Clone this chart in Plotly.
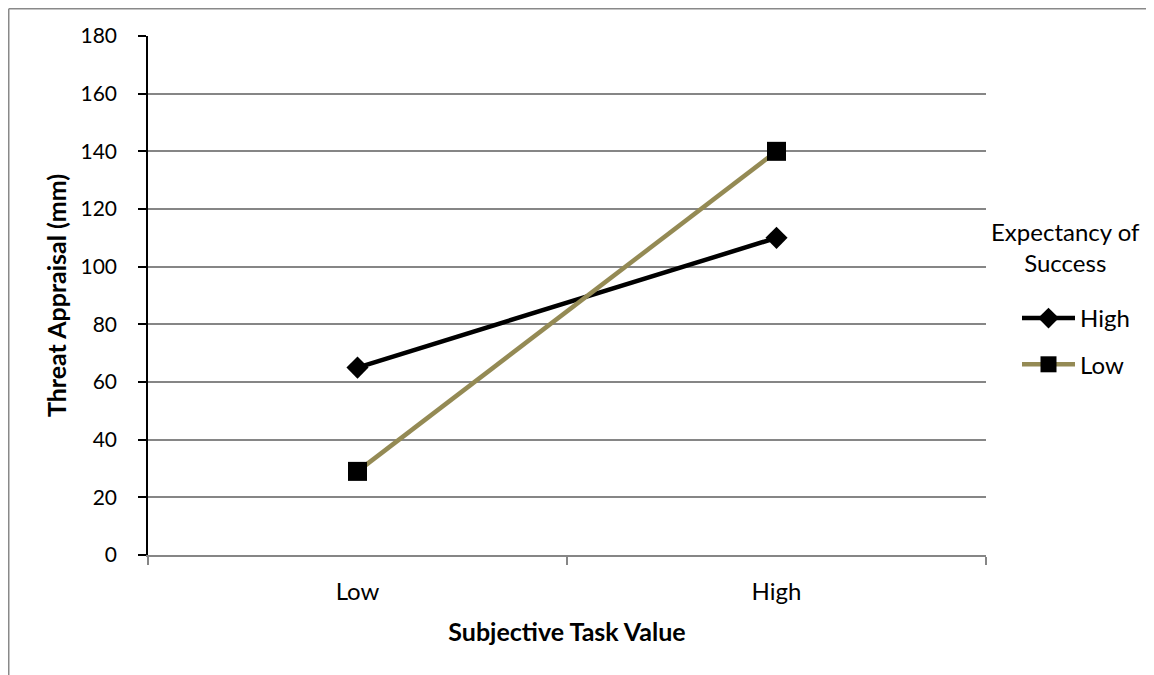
import plotly.graph_objects as go

categories = ["Low", "High"]
series_names = ["High", "Low"]
high_values = [65, 110]
low_values = [29, 140]
y_ticks = [0, 20, 40, 60, 80, 100, 120, 140, 160, 180]
legend_title = "Expectancy of<br>Success"

FONT = "Lato"
W, H = 1154, 675
# page is offset by the 8px body margin; margins are given in figure pixels
L, R, T, B = 140, 176, 28, 128
pw, ph = W - L - R, H - T - B

fig = go.Figure()
fig.add_trace(go.Scatter(
    x=categories, y=high_values, name=series_names[0], mode="lines+markers",
    legendgroup="g1",
    line=dict(color="#000000", width=4.5),
    marker=dict(symbol="diamond", size=17, color="#000000"),
))
fig.add_trace(go.Scatter(
    x=categories, y=low_values, name=series_names[1], mode="lines+markers",
    legendgroup="g2",
    line=dict(color="#948A54", width=4.5),
    marker=dict(symbol="square", size=19, color="#000000"),
))

def px_x(p):
    return (p - L) / pw

def px_y(p):
    return (H - B - p) / ph

border = dict(color="#898989", width=1.5)

fig.update_layout(
    width=W, height=H,
    margin=dict(l=L, r=R, t=T, b=B, pad=0),
    paper_bgcolor="white", plot_bgcolor="white",
    font=dict(family=FONT, size=24, color="#000000"),
    showlegend=True,
    legend=dict(
        x=px_x(1009), y=px_y(288), xanchor="left", yanchor="top",
        font=dict(family=FONT, size=24),
        bgcolor="rgba(0,0,0,0)", itemwidth=53,
        traceorder="grouped", tracegroupgap=12,
    ),
    annotations=[dict(
        text=legend_title, xref="paper", yref="paper",
        x=px_x(1057.5), y=px_y(238.5), xanchor="center", yanchor="middle",
        showarrow=False, align="center", font=dict(family=FONT, size=24),
    )],
    xaxis=dict(
        type="category", range=[-0.5, 1.5], tickson="boundaries",
        showgrid=False, showline=True, linecolor="#868686", linewidth=1.5,
        ticks="outside", ticklen=8, tickcolor="#868686", tickwidth=1.5,
        tickfont=dict(family=FONT, size=24), ticklabelstandoff=14,
        title=dict(text="<b>Subjective Task Value</b>", font=dict(family=FONT, size=25), standoff=20),
        zeroline=False,
    ),
    yaxis=dict(
        range=[0, 180], tickvals=y_ticks, showgrid=True, gridcolor="#868686", gridwidth=1.5,
        showline=True, linecolor="#000000", linewidth=1.5,
        ticks="outside", ticklen=8, tickcolor="#000000", tickwidth=1.5,
        tickfont=dict(family=FONT, size=21), ticklabelstandoff=17,
        title=dict(text="<b>Threat Appraisal (mm)</b>", font=dict(family=FONT, size=25), standoff=7),
        zeroline=False,
    ),
    shapes=[
        dict(type="line", xref="paper", yref="paper",
             x0=px_x(0.75), x1=px_x(W + 40), y0=px_y(0.75), y1=px_y(0.75),
             line=border, layer="below"),
        dict(type="line", xref="paper", yref="paper",
             x0=px_x(0.75), x1=px_x(0.75), y0=px_y(0.75), y1=px_y(H + 40),
             line=border, layer="below"),
    ],
)

fig.write_html("out.html")
